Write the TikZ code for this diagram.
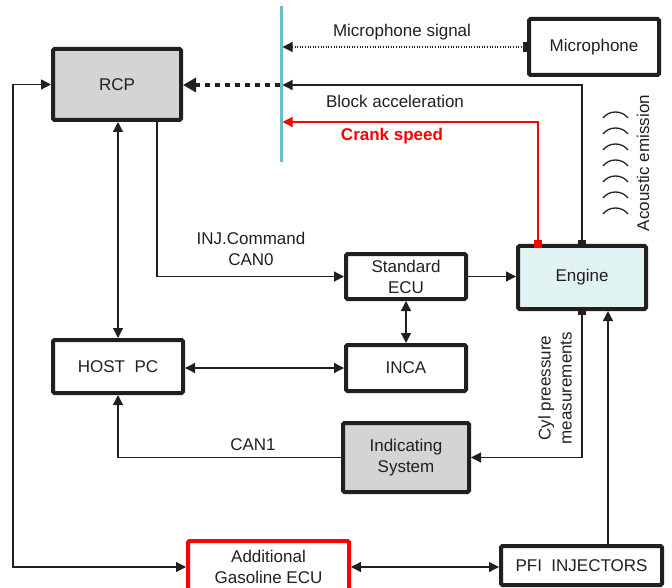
\documentclass[tikz,border=0pt]{standalone}
\usepackage{fontspec}
\setmainfont{Liberation Sans}
\usetikzlibrary{arrows.meta,calc}
\definecolor{ink}{HTML}{231F20}
\definecolor{boxgray}{HTML}{D3D4D6}
\definecolor{enginefill}{HTML}{E1F2F3}
\definecolor{barteal}{HTML}{6DBFC6}
\definecolor{redline}{HTML}{FF0000}
\tikzset{
  blk/.style={draw=ink, line width=4pt, rounded corners=1.5pt, align=center, text=ink,
    font=\fontsize{17}{21}\selectfont, inner sep=0pt},
  conn/.style={draw=ink, line width=1.3pt, -{Triangle[length=10pt,width=10pt]}},
  dconn/.style={draw=ink, line width=1.3pt, {Triangle[length=10pt,width=10pt]}-{Triangle[length=10pt,width=10pt]}},
  plain/.style={draw=ink, line width=1.3pt},
  lbl/.style={text=ink, font=\fontsize{17}{21}\selectfont, align=center, inner sep=0pt},
  marker/.style={fill=ink, draw=none, minimum size=8pt, inner sep=0pt},
}
\begin{document}
\begin{tikzpicture}[x=1pt,y=-1pt]
\useasboundingbox (0,0) rectangle (672,588);
% boxes
\node[blk, fill=boxgray, minimum width=128pt, minimum height=71pt] (rcp) at (117,84.5) {RCP};
\node[blk, fill=white, minimum width=130pt, minimum height=56pt] (mic) at (594,47) {Microphone};
\node[blk, fill=enginefill, minimum width=128pt, minimum height=63pt] (eng) at (582,277.5) {Engine};
\node[blk, fill=white, minimum width=120pt, minimum height=45pt] (ecu) at (406,276.5) {Standard\\ECU};
\node[blk, fill=white, minimum width=120pt, minimum height=46pt] (inca) at (406,368) {INCA};
\node[blk, fill=white, minimum width=130pt, minimum height=53pt] (host) at (118,366.5) {HOST\ \ PC};
\node[blk, fill=boxgray, minimum width=126pt, minimum height=69pt] (ind) at (406,457.5) {Indicating\\System};
\node[blk, draw=redline, fill=white, minimum width=161pt, minimum height=52pt] (add) at (268.5,567) {Additional\\Gasoline ECU};
\node[blk, fill=white, minimum width=161pt, minimum height=39pt] (pfi) at (581.5,565.5) {PFI\ \ INJECTORS};
% teal bar
\draw[barteal, line width=3pt] (281,6) -- (281,162);
\coordinate (barM) at (282.5,47);
\coordinate (barB) at (282.5,85);
\coordinate (barC) at (282.5,122);
\coordinate (barL) at (279.5,85);
% microphone signal
\draw[draw=ink, line width=1.2pt, dash pattern=on 1pt off 1.6pt, -{Triangle[length=10pt,width=10pt]}] (mic.west) -- (barM);
\node[marker, minimum width=8pt, minimum height=10pt] (mmk) at (mic.west) {};
\node[lbl] (lmic) at (402,32) {Microphone signal};
% block acceleration
\coordinate (ebt) at (eng.north);
\draw[conn] (ebt) -- (582,85) -- (barB);
\draw[draw=ink, line width=4.5pt, dash pattern=on 5pt off 5pt, -{Triangle[length=13pt,width=14pt]}] (barL) -- (rcp.east |- barL);
\node[lbl] (lblk) at (395,101) {Block acceleration};
% crank speed
\coordinate (ecr) at ($(eng.north)+(-44,0)$);
\draw[draw=redline, line width=1.3pt, -{Triangle[length=10pt,width=10pt]}] (ecr) -- (538,122) -- (barC);
\node[lbl, text=redline, font=\fontsize{17}{21}\selectfont\bfseries] (lcrk) at (392,136) {Crank speed};
% markers on engine
\node[marker] (m1) at (eng.north) {};
\node[marker, fill=redline] (m2) at (ecr) {};
\node[marker] (m3) at (eng.south) {};
% acoustic emission
\foreach \i in {0,...,6} {
  \draw[ink, line width=1.3pt] (603,{118+16*\i}) .. controls (609,{110+16*\i}) and (622,{110+16*\i}) .. (628,{118+16*\i});
}
\node[lbl, rotate=90] (lac) at (643,163) {Acoustic emission};
% INJ command
\coordinate (rinj) at ($(rcp.south)+(40,0)$);
\draw[conn] (rinj) |- (ecu.west);
\node[lbl] (linj) at (251,249) {INJ.Command\\CAN0};
% ECU -> engine
\draw[conn] (ecu.east) -- (eng.west |- ecu.east);
% RCP <-> host
\draw[dconn] (rcp.south -| host.south) -- (host.north);
% host <-> inca
\draw[dconn] (host.east |- inca.west) -- (inca.west);
% ecu <-> inca
\draw[dconn] (ecu.south) -- (inca.north);
% cyl pressure
\draw[conn] (eng.south) |- (ind.east);
\node[lbl, rotate=90] (lcyl) at (555,388) {Cyl preessure\\measurements};
% CAN1
\draw[conn] (ind.west) -| (host.south);
\node[lbl] (lcan) at (253,445) {CAN1};
% left loop
\draw[dconn] (rcp.west) -- (13,84.5) |- (add.west);
% additional <-> PFI
\draw[dconn] (add.east) -- (pfi.west |- add.east);
% PFI -> engine
\coordinate (ptop) at ($(pfi.north)+(26.5,0)$);
\draw[conn] (ptop) -- (ptop |- eng.south);
\end{tikzpicture}
\end{document}
